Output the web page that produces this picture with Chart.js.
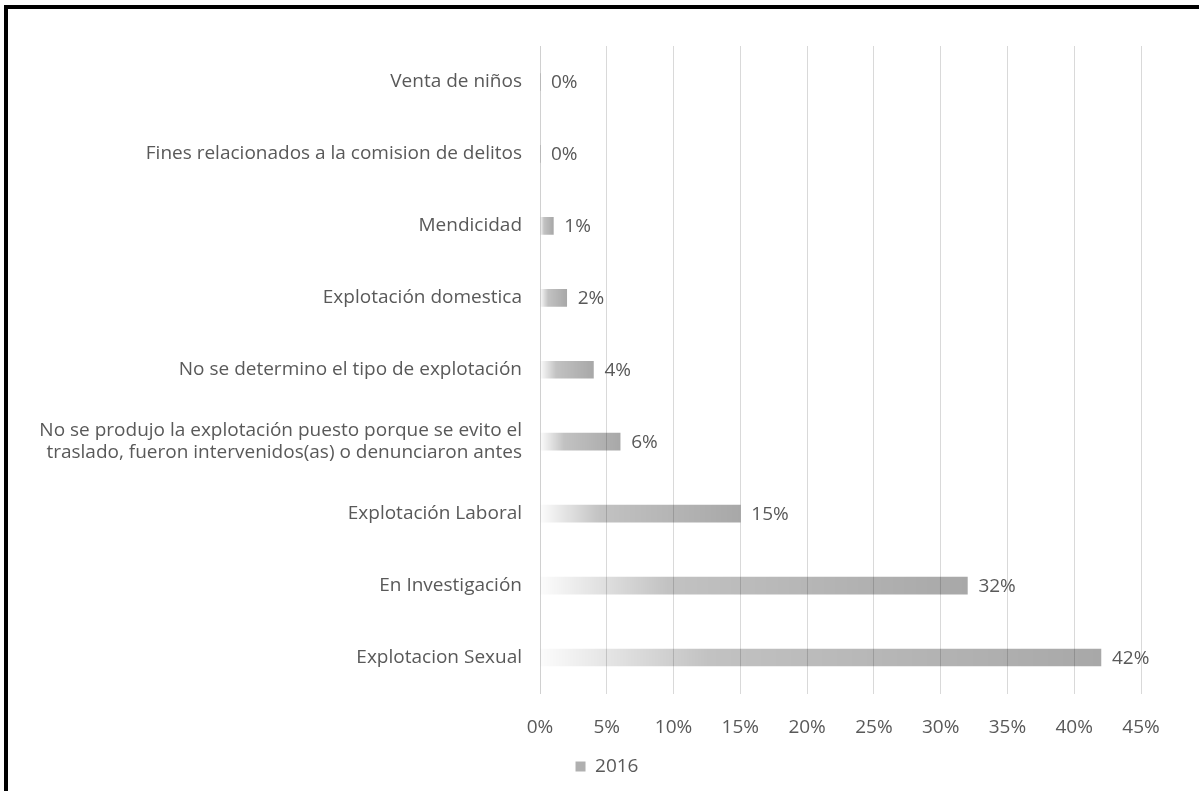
<!DOCTYPE html>
<html><head><meta charset="utf-8">
<script src="https://cdn.jsdelivr.net/npm/chart.js@4"></script>
<style>
html,body{margin:0;padding:0;background:#fff;overflow:hidden;}
#wrap{position:relative;width:1199px;height:791px;overflow:hidden;}
#frame{position:absolute;left:4px;top:5px;width:1220px;height:820px;border-top:4px solid #000;border-left:4px solid #000;}
canvas{position:absolute;left:0;top:0;}
</style></head><body>
<div id="wrap"><div id="frame"></div><canvas id="c" width="1199" height="791"></canvas></div>
<script>
const categories = [
  'Venta de niños',
  'Fines relacionados a la comision de delitos',
  'Mendicidad',
  'Explotación domestica',
  'No se determino el tipo de explotación',
  ['No se produjo la explotación puesto porque se evito el', 'traslado, fueron intervenidos(as) o denunciaron antes'],
  'Explotación Laboral',
  'En Investigación',
  'Explotacion Sexual'
];
const values2016 = [0, 0, 1, 2, 4, 6, 15, 32, 42];
const seriesName = '2016';
const xMin = 0, xMax = 45, xStep = 5;

const FONT = '"Open Sans", sans-serif';
const TEXT = '#595959';
const FS = 19;
Chart.defaults.font.family = FONT;
Chart.defaults.color = TEXT;

function barGradient(ctx) {
  const chart = ctx.chart;
  if (!chart.chartArea || ctx.type !== 'data') return 'rgba(0,0,0,0.3)';
  const xs = chart.scales.x;
  const x0 = xs.getPixelForValue(0);
  const x1 = xs.getPixelForValue(ctx.raw);
  if (x1 - x0 < 1) return 'rgba(0,0,0,0.34)';
  const g = chart.ctx.createLinearGradient(x0, 0, x1, 0);
  g.addColorStop(0, 'rgba(0,0,0,0.01)');
  g.addColorStop(0.3, 'rgba(0,0,0,0.24)');
  g.addColorStop(1, 'rgba(0,0,0,0.34)');
  return g;
}

const valueLabels = {
  id: 'valueLabels',
  afterDatasetsDraw(chart) {
    const ctx = chart.ctx;
    const meta = chart.getDatasetMeta(0);
    ctx.save();
    ctx.font = FS + 'px ' + FONT;
    ctx.fillStyle = TEXT;
    ctx.textBaseline = 'middle';
    ctx.textAlign = 'left';
    meta.data.forEach((bar, i) => {
      ctx.fillText(values2016[i] + '%', bar.x + 11, bar.y + 1);
    });
    ctx.restore();
  }
};

new Chart(document.getElementById('c'), {
  type: 'bar',
  data: {
    labels: categories,
    datasets: [{
      label: seriesName,
      data: values2016,
      backgroundColor: barGradient,
      borderWidth: 0,
      barThickness: 17
    }]
  },
  options: {
    indexAxis: 'y',
    responsive: false,
    animation: false,
    layout: { padding: { left: 15, right: 0, top: 46, bottom: 5 } },
    plugins: {
      tooltip: { enabled: false },
      legend: {
        position: 'bottom',
        labels: {
          boxWidth: 10, boxHeight: 10, padding: 6, color: TEXT,
          font: { size: FS },
          generateLabels: () => [{ text: seriesName, fillStyle: '#b0b0b0', strokeStyle: 'rgba(0,0,0,0)', lineWidth: 0, datasetIndex: 0, fontColor: TEXT }]
        }
      }
    },
    scales: {
      x: {
        min: xMin, max: xMax,
        ticks: { stepSize: xStep, callback: v => v + '%', padding: 23, color: TEXT, font: { size: FS } },
        grid: { color: '#d9d9d9', drawTicks: false },
        border: { display: false },
        afterFit: s => { s.height = 57.5; }
      },
      y: {
        ticks: { padding: 10, color: TEXT, font: { size: FS, lineHeight: 1.15 } },
        grid: { display: false },
        border: { color: '#d0d0d0', width: 1 },
        afterFit: s => { s.width = 525; }
      },
      yRight: {
        type: 'linear',
        position: 'right',
        display: true,
        ticks: { display: false },
        grid: { display: false, drawTicks: false },
        border: { display: false },
        afterFit: s => { s.width = 58; }
      }
    }
  },
  plugins: [valueLabels]
});
</script>
</body></html>
